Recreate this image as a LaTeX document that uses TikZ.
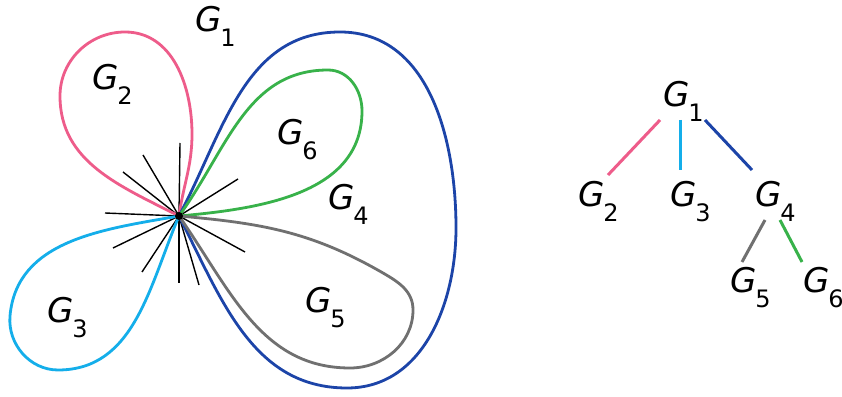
\documentclass[tikz,border=0pt]{standalone}
\usepackage{fontspec}
\setmainfont{DejaVu Sans}
\newcommand{\glab}[1]{{\fontsize{34}{34}\selectfont\itshape G}\kern-1pt\raisebox{-15pt}{\fontsize{24}{24}\selectfont #1}}
\definecolor{cpink}{RGB}{238,92,138}
\definecolor{ccyan}{RGB}{20,174,234}
\definecolor{cblue}{RGB}{28,68,168}
\definecolor{cgreen}{RGB}{56,178,74}
\definecolor{cgray}{RGB}{112,112,112}
\tikzset{
  loopline/.style={line width=2.8pt},
  spoke/.style={line width=1.4pt,black},
  treeedge/.style={line width=3pt},
  lbl/.style={anchor=base west,inner sep=0pt,outer sep=0pt}
}
\begin{document}
\begin{tikzpicture}[x=1pt,y=1pt]
\useasboundingbox (0,0) rectangle (842,396);
\fill[white] (0,0) rectangle (842,396);
\coordinate (C) at (179,180);
% spokes
\foreach \p [count=\i] in {(180,253),(143,241),(123,224),(238,217),(105,183),(113,148),(142,124),(179,113),(199,111),(245,144)}
  \draw[spoke] (C) -- \p;
% loops
\draw[loopline,cpink] (C) to[out=82,in=-90] (192,262) to[out=90,in=0] (125,364) to[out=180,in=90] (60,300) to[out=-90,in=153] (C);
\draw[loopline,cblue] (C) to[out=62,in=180] (340,364) to[out=0,in=90] (456,168) to[out=-90,in=0] (347,8) to[out=180,in=-63] (C);
\draw[loopline,cgreen] (C) to[out=54,in=180] (328,326) to[out=0,in=90] (362,285) to[out=-90,in=5] (C);
\draw[loopline,cgray] (C) to[out=-5,in=150] (383,123) to[out=-30,in=90] (413,86) to[out=-90,in=0] (350,28) to[out=180,in=-55] (C);
\draw[loopline,ccyan] (C) to[out=190,in=85] (10,80) to[out=-95,in=180] (58,26) to[out=0,in=-113] (C);
\fill (C) circle (4);
% labels left
\node[lbl] (L1) at (195,364) {\glab{1}};
\node[lbl] (L2) at (92,306) {\glab{2}};
\node[lbl] (L6) at (277,251) {\glab{6}};
\node[lbl] (L4) at (328,186) {\glab{4}};
\node[lbl] (L3) at (47,74) {\glab{3}};
\node[lbl] (L5) at (305,84) {\glab{5}};
% tree
\node[lbl] (T1) at (663,289) {\glab{1}};
\node[lbl] (T2) at (578,189) {\glab{2}};
\node[lbl] (T3) at (670,189) {\glab{3}};
\node[lbl] (T4) at (755,189) {\glab{4}};
\node[lbl] (T5) at (730,103) {\glab{5}};
\node[lbl] (T6) at (803,103) {\glab{6}};
\coordinate (e1a) at (660,276); \coordinate (e1b) at (608,221);
\coordinate (e2a) at (680,276); \coordinate (e2b) at (680,226);
\coordinate (e3a) at (705,276); \coordinate (e3b) at (752,226);
\coordinate (e4a) at (765,176); \coordinate (e4b) at (742,134);
\coordinate (e5a) at (780,176); \coordinate (e5b) at (802,134);
\draw[treeedge,cpink] (e1a) -- (e1b);
\draw[treeedge,ccyan] (e2a) -- (e2b);
\draw[treeedge,cblue] (e3a) -- (e3b);
\draw[treeedge,cgray] (e4a) -- (e4b);
\draw[treeedge,cgreen] (e5a) -- (e5b);
\end{tikzpicture}
\end{document}
